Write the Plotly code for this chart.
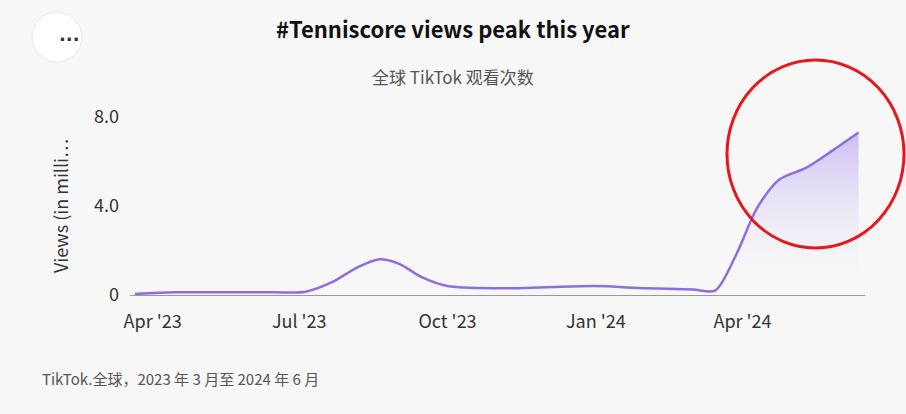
import plotly.graph_objects as go

dates = ["2023-03-21","2023-04-15","2023-05-15","2023-06-15","2023-07-05","2023-07-22","2023-08-05","2023-08-19","2023-09-01","2023-09-15","2023-10-01","2023-11-01","2023-12-01","2024-01-01","2024-02-01","2024-03-01","2024-03-15","2024-03-28","2024-04-10","2024-04-24","2024-05-10","2024-05-25","2024-06-12"]
views = [0.05,0.12,0.12,0.12,0.15,0.6,1.2,1.6,1.4,0.8,0.4,0.3,0.35,0.4,0.3,0.25,0.2,1.8,3.9,5.2,5.7,6.4,7.3]

L,R,T,B = 130,41,117,119
W,H = 906,414
def px(x): return (x-L)/(W-L-R)
def py(y): return (H-B-y)/(H-T-B)

fig = go.Figure(go.Scatter(x=dates, y=views, mode="lines", line=dict(color="#8b6fe0", width=2.5, shape="spline", smoothing=0.8),
    fill="tozeroy", fillgradient=dict(type="vertical", colorscale=[[0,"rgba(247,247,247,0)"],[1,"rgba(160,130,240,0.5)"]]), hoverinfo="skip"))

fig.update_layout(width=W, height=H, margin=dict(l=L,r=R,t=T,b=B), paper_bgcolor="#f7f7f7", plot_bgcolor="#f7f7f7",
    font=dict(family="Noto Sans CJK SC, Noto Sans", color="#333"), showlegend=False,
    xaxis=dict(type="date", range=["2023-03-18","2024-06-16"], tickvals=["2023-04-01","2023-07-01","2023-10-01","2024-01-01","2024-04-01"],
               ticktext=["Apr '23","Jul '23","Oct '23","Jan '24","Apr '24"], showgrid=False, showline=True, linecolor="#999", ticks="",
               tickfont=dict(size=18, color="#333"), ticklabelstandoff=10),
    yaxis=dict(range=[0,8], tickvals=[0,4,8], ticktext=["0","4.0","8.0"], showgrid=False, zeroline=False, tickfont=dict(size=18,color="#333"),
               ticklabelstandoff=10, title=dict(text="Views (in milli…", font=dict(size=18,color="#333"), standoff=20)))

fig.add_annotation(text="<b>#Tenniscore views peak this year</b>", xref="paper", yref="paper", x=px(453), y=py(10), showarrow=False, font=dict(size=22,color="#111"))
fig.add_annotation(text="全球 TikTok 观看次数", xref="paper", yref="paper", x=px(453), y=py(62), showarrow=False, font=dict(size=17,color="#555"))
fig.add_annotation(text="TikTok.全球，2023 年 3 月至 2024 年 6 月", xref="paper", yref="paper", x=px(40), y=py(391), xanchor="left", showarrow=False, font=dict(size=15,color="#555"))
fig.add_shape(type="circle", xref="paper", yref="paper", x0=px(32), x1=px(82), y0=py(62), y1=py(12), fillcolor="white", line=dict(color="#e8e8e8", width=1))
fig.add_annotation(text="<b>...</b>", xref="paper", yref="paper", x=px(57), y=py(22), showarrow=False, font=dict(size=18,color="#333", family="DejaVu Sans"))
fig.add_shape(type="circle", xref="paper", yref="paper", x0=px(727), x1=px(904), y0=py(248), y1=py(60), line=dict(color="#e8161b", width=3))

fig.write_html("out.html", post_script="document.body.style.margin='0';", config={"displayModeBar": False})
